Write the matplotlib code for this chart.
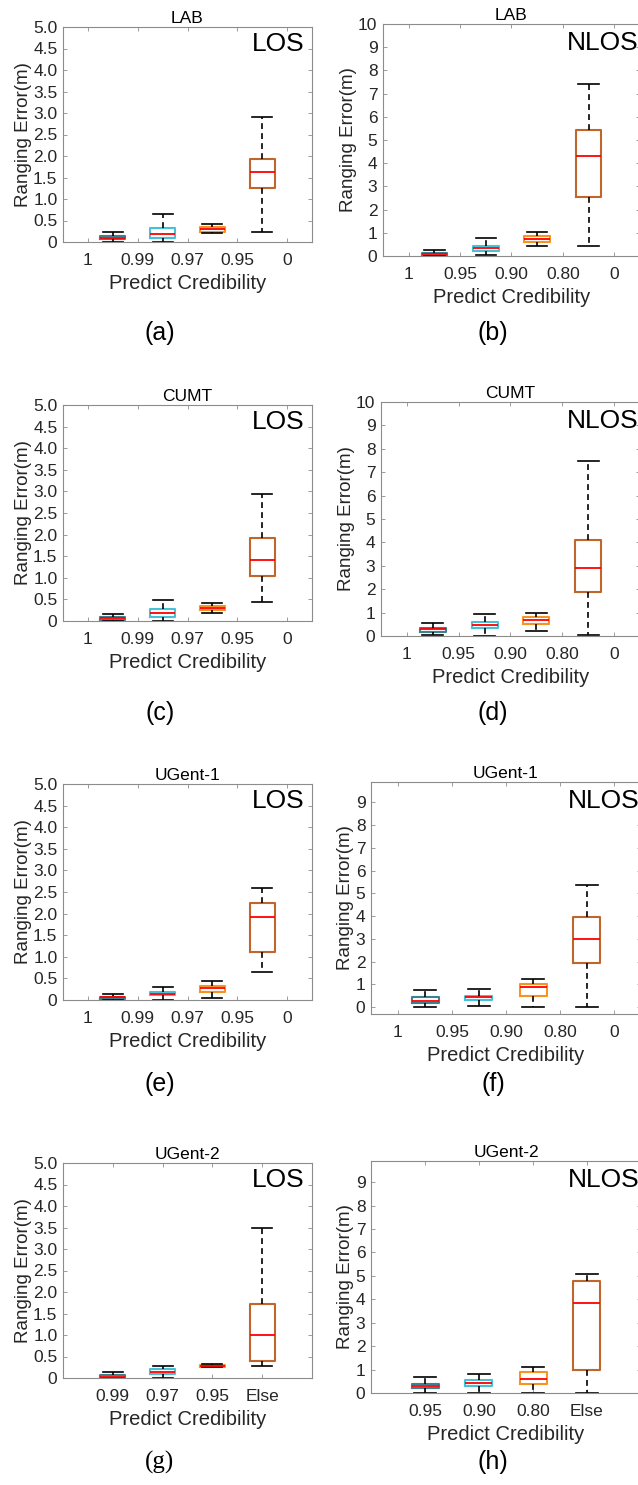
import numpy as np
import matplotlib
matplotlib.use("Agg")
import matplotlib.pyplot as plt

plt.rcParams['font.family'] = ['Liberation Sans', 'DejaVu Sans']

titles = ["LAB", "LAB", "CUMT", "CUMT", "UGent-1", "UGent-1", "UGent-2", "UGent-2"]
tags = ["LOS", "NLOS"] * 4
captions = ["(a)", "(b)", "(c)", "(d)", "(e)", "(f)", "(g)", "(h)"]

los_ticks = ["1", "0.99", "0.97", "0.95", "0"]
nlos_ticks = ["1", "0.95", "0.90", "0.80", "0"]
los_ticks_else = ["0.99", "0.97", "0.95", "Else"]
nlos_ticks_else = ["0.95", "0.90", "0.80", "Else"]

# per panel, per box: whisker low, q1, median, q3, whisker high
a_lo = [0.00, 0.00, 0.22, 0.24]
a_q1 = [0.06, 0.085, 0.23, 1.25]
a_med = [0.10, 0.19, 0.30, 1.63]
a_q3 = [0.15, 0.32, 0.34, 1.94]
a_hi = [0.23, 0.66, 0.41, 2.91]

b_lo = [0.00, 0.04, 0.45, 0.45]
b_q1 = [0.02, 0.23, 0.60, 2.53]
b_med = [0.07, 0.35, 0.73, 4.33]
b_q3 = [0.12, 0.45, 0.88, 5.42]
b_hi = [0.26, 0.76, 1.04, 7.41]

c_lo = [0.00, 0.00, 0.18, 0.43]
c_q1 = [0.02, 0.10, 0.255, 1.04]
c_med = [0.07, 0.18, 0.31, 1.42]
c_q3 = [0.10, 0.27, 0.35, 1.91]
c_hi = [0.155, 0.49, 0.41, 2.94]

d_lo = [0.04, 0.01, 0.20, 0.06]
d_q1 = [0.16, 0.33, 0.51, 1.86]
d_med = [0.29, 0.47, 0.69, 2.90]
d_q3 = [0.36, 0.61, 0.83, 4.10]
d_hi = [0.56, 0.94, 0.97, 7.47]

e_lo = [0.00, 0.00, 0.05, 0.65]
e_q1 = [0.02, 0.11, 0.19, 1.11]
e_med = [0.06, 0.15, 0.27, 1.91]
e_q3 = [0.08, 0.19, 0.33, 2.25]
e_hi = [0.14, 0.29, 0.43, 2.60]

f_lo = [0.00, 0.07, 0.01, 0.00]
f_q1 = [0.19, 0.32, 0.48, 1.95]
f_med = [0.29, 0.44, 0.87, 2.98]
f_q3 = [0.43, 0.51, 1.04, 3.96]
f_hi = [0.76, 0.79, 1.26, 5.37]

g_lo = [0.00, 0.00, 0.25, 0.29]
g_q1 = [0.00, 0.10, 0.25, 0.39]
g_med = [0.03, 0.15, 0.28, 0.99]
g_q3 = [0.06, 0.21, 0.30, 1.71]
g_hi = [0.14, 0.29, 0.33, 3.48]

h_lo = [0.00, 0.00, 0.00, 0.00]
h_q1 = [0.20, 0.29, 0.40, 0.97]
h_med = [0.29, 0.44, 0.61, 3.86]
h_q3 = [0.37, 0.57, 0.90, 4.77]
h_hi = [0.67, 0.81, 1.09, 5.09]

panels = [
    (a_lo, a_q1, a_med, a_q3, a_hi),
    (b_lo, b_q1, b_med, b_q3, b_hi),
    (c_lo, c_q1, c_med, c_q3, c_hi),
    (d_lo, d_q1, d_med, d_q3, d_hi),
    (e_lo, e_q1, e_med, e_q3, e_hi),
    (f_lo, f_q1, f_med, f_q3, f_hi),
    (g_lo, g_q1, g_med, g_q3, g_hi),
    (h_lo, h_q1, h_med, h_q3, h_hi),
]
xticklabels = [los_ticks, nlos_ticks] * 3 + [los_ticks_else, nlos_ticks_else]

box_colors = ['#3f8090', '#48c0d8', '#f7931e', '#c0662a']

W, H = 638, 1485
fig = plt.figure(figsize=(W / 100, H / 100), dpi=100)

# axes boxes in pixels: left, top, right, bottom
rects = [
    (63, 27, 312, 242), (383, 24, 640, 256),
    (63, 405, 312, 621), (381, 402, 640, 636),
    (63, 784, 312, 1000), (371, 782, 641, 1014),
    (63, 1163, 312, 1378), (371, 1161, 641, 1393),
]
ylims = [(0, 5), (0, 10), (0, 5), (0, 10), (0, 5), (-0.3, 9.9), (0, 5), (0, 9.9)]
cap_y = [333, 333, 713, 713, 1084, 1084, 1462, 1462]

for i, (stats_src, rect) in enumerate(zip(panels, rects)):
    l, t, r, b = rect
    ax = fig.add_axes([l / W, 1 - b / H, (r - l) / W, (b - t) / H])
    lo, q1, med, q3, hi = stats_src
    stats = [dict(whislo=lo[k], q1=q1[k], med=med[k], q3=q3[k], whishi=hi[k], fliers=[])
             for k in range(len(med))]
    pos = np.arange(1, len(med) + 1)
    art = ax.bxp(stats, positions=pos, widths=0.5, capwidths=0.4, showfliers=False,
                 boxprops=dict(linewidth=1.5),
                 medianprops=dict(color='#ff0000', linewidth=1.3),
                 whiskerprops=dict(color='black', linewidth=1.2, linestyle=(0, (3.5, 2.5))),
                 capprops=dict(color='black', linewidth=1.2))
    for k, box in enumerate(art['boxes']):
        box.set_color(box_colors[k])
    for m in art['medians']:
        m.set_zorder(4)

    labels = xticklabels[i]
    if len(labels) == len(med):
        xt = pos
    else:
        xt = np.arange(len(labels)) + 0.5
    ax.set_xticks(xt)
    ax.set_xticklabels(labels)
    ax.set_xlim(0, 5)

    y0, y1 = ylims[i]
    ax.set_ylim(y0, y1)
    if i % 2 == 0:
        yt = np.arange(0, 5.01, 0.5)
        ax.set_yticks(yt)
        ax.set_yticklabels(["0"] + ["%.1f" % v for v in yt[1:]])
    else:
        yt = np.arange(0, int(y1) + 1)
        ax.set_yticks(yt)
        ax.set_yticklabels([str(v) for v in yt])

    ax.tick_params(direction='in', top=True, right=True, length=3, width=0.6,
                   color='#8c8c8c', labelcolor='#262626', labelsize=12.5)
    ax.tick_params(axis='x', pad=8)
    ax.tick_params(axis='y', pad=4)
    for sp in ax.spines.values():
        sp.set_color('#8c8c8c')
        sp.set_linewidth(0.8)

    ax.set_title(titles[i], fontsize=12.5, color='black', pad=3)
    ax.set_xlabel("Predict Credibility", fontsize=14.5, color='#262626', labelpad=4)
    ax.set_ylabel("Ranging Error(m)", fontsize=13.5, color='#262626', labelpad=1)
    ax.text(0.97 if i % 2 == 0 else 0.995, 0.92, tags[i], transform=ax.transAxes,
            ha='right', va='center', fontsize=19, color='black')

    cx = 160 if i % 2 == 0 else 493
    fam = ['Liberation Serif'] if captions[i] == "(g)" else ['Liberation Sans']
    fig.text(cx / W, 1 - cap_y[i] / H, captions[i], ha='center', va='center',
             fontsize=18, family=fam, color='black')

fig.savefig("out.png", dpi=100)
